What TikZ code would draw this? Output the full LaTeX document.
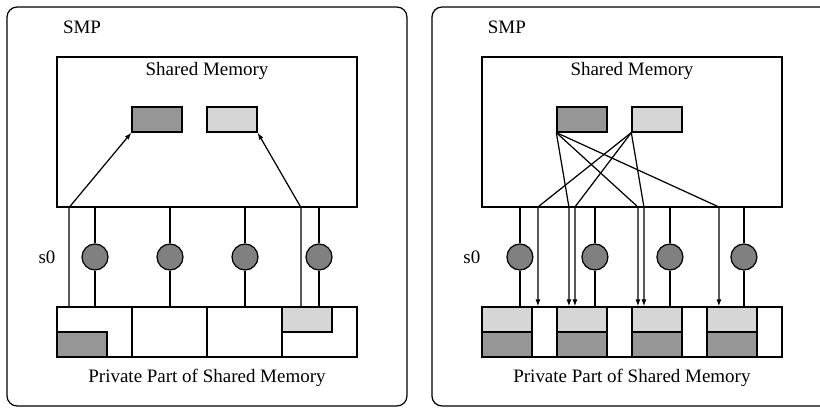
\documentclass[tikz,border=0pt]{standalone}
\usepackage{fontspec}
\setmainfont{Liberation Serif}
\usetikzlibrary{arrows.meta, positioning}
\definecolor{cdark}{HTML}{969696}
\definecolor{clight}{HTML}{D6D6D6}
\definecolor{cnode}{HTML}{808080}
\tikzset{
  every picture/.style={line width=0.7pt},
  panel/.style={draw, rounded corners=0.2cm, minimum width=8cm, minimum height=7.98cm, inner sep=0pt},
  membox/.style={draw, minimum width=6cm, minimum height=3cm, inner sep=0pt},
  cell/.style={draw, minimum width=1.5cm, minimum height=1cm, inner sep=0pt},
  blk/.style={draw, fill=#1, minimum width=1cm, minimum height=0.5cm, inner sep=0pt},
  blk/.default=cdark,
  proc/.style={draw, circle, fill=cnode, minimum size=0.52cm, inner sep=0pt},
  txt/.style={font=\rmfamily\fontsize{10.8}{12}\selectfont, inner sep=0pt},
  arrow/.style={-{Latex[length=1.4mm, width=1mm]}},
}

\begin{document}
\begin{tikzpicture}[x=0.02cm, y=-0.02cm]
  \useasboundingbox (0,0) rectangle (820,408);
  \clip (0,0) rectangle (820,408);

  % left: private copies
  \node[panel] (panL) at (207,206.5) {};
  \node[txt] (smpL) at (82,27) {SMP};
  \node[membox] (smL) at (207,132) {};
  \node[txt] (smtL) at (207,71) {Shared Memory};
  \node[blk=cdark] (dkL) at (157,119.5) {};
  \node[blk=clight] (ltL) at (232,119.5) {};
  \foreach \i/\x in {1/94.5, 2/169.5, 3/244.5, 4/319.5}
    \node[cell] (cL\i) at (\x,332) {};
  \node[blk=cdark, anchor=south west] (pdL) at (cL1.south west) {};
  \node[blk=clight, anchor=north west] (plL) at (cL4.north west) {};
  \node[txt] (ppL) at (207,378) {Private Part of Shared Memory};
  \foreach \i/\x in {1/95, 2/170, 3/245, 4/319} {
    \coordinate (tL\i) at (\x,207);
    \node[proc] (pL\i) at (\x,257) {};
    \draw (tL\i) -- (pL\i) -- (tL\i |- cL1.north);
  }
  \node[txt] (s0L) at (47,257) {s0};
  \coordinate (uL) at (69,307);
  \coordinate (uR) at (301,307);
  \draw[arrow] (uL) -- (uL |- smL.south) -- (dkL.south west);
  \draw[arrow] (uR) -- (uR |- smL.south) -- (ltL.south east);

  % right: replicated copies
  \begin{scope}[xshift=8.5cm]
  \node[panel] (panR) at (207,206.5) {};
  \node[txt] (smpR) at (82,27) {SMP};
  \node[membox] (smR) at (207,132) {};
  \node[txt] (smtR) at (207,71) {Shared Memory};
  \node[blk=cdark] (dkR) at (157,119.5) {};
  \node[blk=clight] (ltR) at (232,119.5) {};
  \foreach \i/\x in {1/94.5, 2/169.5, 3/244.5, 4/319.5} {
    \node[cell] (cR\i) at (\x,332) {};
    \node[blk=clight, anchor=north west] (lR\i) at (cR\i.north west) {};
    \node[blk=cdark, anchor=south west] (dR\i) at (cR\i.south west) {};
  }
  \node[txt] (ppR) at (207,378) {Private Part of Shared Memory};
  \foreach \i/\x in {1/95, 2/170, 3/245, 4/319} {
    \coordinate (tR\i) at (\x,207);
    \node[proc] (pR\i) at (\x,257) {};
    \draw (tR\i) -- (pR\i) -- (tR\i |- cR1.north);
  }
  \node[txt] (s0R) at (47,257) {s0};
  \foreach \x in {144, 213, 294} {
    \coordinate (v) at (\x,207);
    \draw[arrow] (dkR.south west) -- (v) -- (v |- cR1.north);
  }
  \foreach \x in {113, 150, 219} {
    \coordinate (v) at (\x,207);
    \draw[arrow] (ltR.south west) -- (v) -- (v |- cR1.north);
  }
  \end{scope}
\end{tikzpicture}
\end{document}
